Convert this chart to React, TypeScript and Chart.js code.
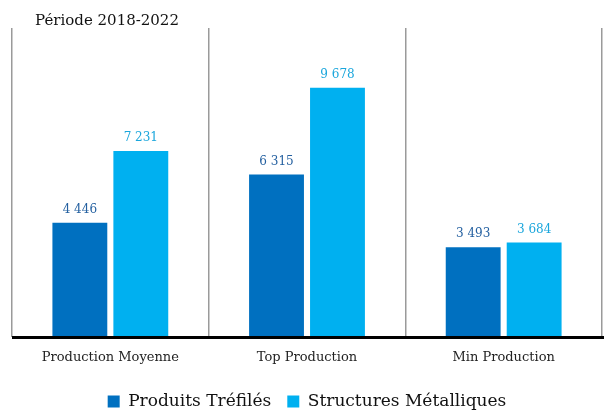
import React, { useEffect, useRef } from "react";
import { Chart, registerables } from "chart.js";

Chart.register(...registerables);

const categories = ["Production Moyenne", "Top Production", "Min Production"];
const produitsTrefiles = [4446, 6315, 3493];
const structuresMetalliques = [7231, 9678, 3684];
const seriesNames = ["Produits Tréfilés", "Structures Métalliques"];
const titleText = "Période 2018-2022";

const DARK = "#0070C0";
const LIGHT = "#00B0F0";
const FONT = "'DejaVu Serif', 'Liberation Serif', serif";

Chart.defaults.font.family = FONT;

const fmt = (v: number) => {
  const s = String(Math.round(v));
  return s.replace(/\B(?=(\d{3})+(?!\d))/g, " ");
};

const extras = {
  id: "extras",
  afterDatasetsDraw(chart: any) {
    const ctx = chart.ctx;
    const area = chart.chartArea;
    ctx.save();
    // data labels
    ctx.font = `12px ${FONT}`;
    ctx.textAlign = "center";
    ctx.textBaseline = "bottom";
    chart.data.datasets.forEach((ds: any, i: number) => {
      const meta = chart.getDatasetMeta(i);
      meta.data.forEach((el: any, j: number) => {
        ctx.fillStyle = i === 0 ? "#2460A0" : "#1AA6DC";
        ctx.fillText(fmt(ds.data[j]), el.x, el.y - 7);
      });
    });
    // baseline
    ctx.strokeStyle = "#000";
    ctx.lineWidth = 3;
    ctx.beginPath();
    ctx.moveTo(area.left, area.bottom);
    ctx.lineTo(chart.width, area.bottom);
    ctx.stroke();
    // title
    ctx.font = `15px ${FONT}`;
    ctx.fillStyle = "#111";
    ctx.textAlign = "left";
    ctx.textBaseline = "middle";
    ctx.fillText(titleText, 35, 21);
    ctx.restore();
  },
};

export default function App() {
  const ref = useRef<HTMLCanvasElement | null>(null);
  useEffect(() => {
    document.body.style.margin = "0";
    const chart = new Chart(ref.current!, {
      type: "bar",
      data: {
        labels: categories,
        datasets: [
          { label: seriesNames[0], data: produitsTrefiles, backgroundColor: DARK, categoryPercentage: 0.62, barPercentage: 0.9 },
          { label: seriesNames[1], data: structuresMetalliques, backgroundColor: LIGHT, categoryPercentage: 0.62, barPercentage: 0.9 },
        ],
      },
      options: {
        animation: false,
        responsive: false,
        layout: { padding: { top: 28, left: 12, right: 2, bottom: -8 } },
        scales: {
          x: {
            offset: true,
            grid: { display: true, offset: true, color: "#9a9a9a", lineWidth: 1.5, drawTicks: false },
            border: { display: false },
            ticks: { color: "#222", font: { family: FONT, size: 13 }, padding: 12 },
          },
          y: { display: false, min: 0, max: 12000 },
        },
        plugins: {
          legend: {
            position: "bottom",
            labels: {
              boxWidth: 12,
              boxHeight: 12,
              color: "#111",
              font: { family: FONT, size: 17 },
              padding: 16,
            },
          },
          tooltip: { enabled: false },
          title: { display: false },
        },
      },
      plugins: [extras],
    });
    return () => chart.destroy();
  }, []);
  return <canvas ref={ref} width={604} height={412} style={{ display: "block" }} />;
}
